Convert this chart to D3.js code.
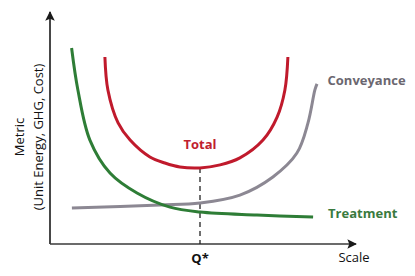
<!DOCTYPE html>
<html>
<head>
<meta charset="utf-8">
<script src="https://cdn.jsdelivr.net/npm/d3@7"></script>
<style>
  body { margin: 0; background: #fff; }
  text { font-family: "Open Sans", sans-serif; }
</style>
</head>
<body>
<div id="chart-container"></div>
<script>
// values (x = scale, y = metric, both 0-10)
var treatmentX = [0.72, 0.93, 1.33, 2.0, 2.9, 4.0, 5.0, 6.9, 8.77];
var treatmentY = [8.45, 6.64, 4.48, 3.06, 2.20, 1.59, 1.38, 1.25, 1.16];

var totalX = [1.83, 1.93, 2.27, 2.67, 3.33, 3.83, 4.33, 5.0, 5.67, 6.33, 7.1, 7.57, 7.83, 7.93];
var totalY = [8.06, 6.64, 5.22, 4.48, 3.75, 3.49, 3.32, 3.28, 3.41, 3.71, 4.48, 5.47, 6.64, 8.06];

var conveyanceX = [0.73, 3.67, 5.0, 6.33, 7.43, 8.23, 8.6, 8.83, 8.9];
var conveyanceY = [1.55, 1.68, 1.77, 2.11, 2.89, 3.92, 5.22, 6.64, 6.9];

var optimumX = 5.0;
var optimumY = 3.28;

var width = 415, height = 276;

var svg = d3.select('#chart-container')
  .append('svg')
  .attr('width', width)
  .attr('height', height);

var x = d3.scaleLinear().domain([0, 10]).range([50, 350]);
var y = d3.scaleLinear().domain([0, 10]).range([244, 12]);

// arrow heads
var defs = svg.append('defs');
defs.append('marker')
  .attr('id', 'arrow')
  .attr('viewBox', '0 0 10 10')
  .attr('refX', 9).attr('refY', 5)
  .attr('markerWidth', 6).attr('markerHeight', 6)
  .attr('markerUnits', 'strokeWidth')
  .attr('orient', 'auto')
  .append('path')
  .attr('d', 'M0,0 L10,5 L0,10 L2,5 Z')
  .attr('fill', '#1a1a1a');

// axes
svg.append('line')
  .attr('x1', x(0)).attr('y1', y(0))
  .attr('x2', x(0)).attr('y2', y(10))
  .attr('stroke', '#1a1a1a').attr('stroke-width', 1.6)
  .attr('marker-end', 'url(#arrow)');

svg.append('line')
  .attr('x1', x(0)).attr('y1', y(0))
  .attr('x2', x(10.2)).attr('y2', y(0))
  .attr('stroke', '#3a3a3a').attr('stroke-width', 1.6)
  .attr('marker-end', 'url(#arrow)');

// dashed line at Q*
svg.append('line')
  .attr('x1', x(optimumX)).attr('y1', y(optimumY))
  .attr('x2', x(optimumX)).attr('y2', y(0))
  .attr('stroke', '#222').attr('stroke-width', 1.3)
  .attr('stroke-dasharray', '5,4');

var line = d3.line()
  .x(d => x(d[0]))
  .y(d => y(d[1]))
  .curve(d3.curveCatmullRom.alpha(0.5));

function drawSeries(xs, ys, color) {
  svg.append('path')
    .datum(d3.zip(xs, ys))
    .attr('d', line)
    .attr('fill', 'none')
    .attr('stroke', color)
    .attr('stroke-width', 3);
}

drawSeries(conveyanceX, conveyanceY, '#8c8893');
drawSeries(treatmentX, treatmentY, '#2e7d36');
drawSeries(totalX, totalY, '#c01a2c');

// series labels
svg.append('text')
  .attr('x', x(5)).attr('y', y(4.1))
  .attr('text-anchor', 'middle')
  .attr('font-size', 13).attr('font-weight', 'bold')
  .attr('fill', '#c0202e')
  .text('Total');

svg.append('text')
  .attr('x', x(9.25)).attr('y', y(6.85))
  .attr('font-size', 13).attr('font-weight', 'bold')
  .attr('fill', '#6b6770')
  .text('Conveyance');

svg.append('text')
  .attr('x', x(9.27)).attr('y', y(1.1))
  .attr('font-size', 13).attr('font-weight', 'bold')
  .attr('fill', '#3a7a3e')
  .text('Treatment');

// axis labels
svg.append('text')
  .attr('x', x(optimumX)).attr('y', 263)
  .attr('text-anchor', 'middle')
  .attr('font-size', 13).attr('font-weight', 'bold')
  .attr('fill', '#111')
  .text('Q*');

svg.append('text')
  .attr('x', 354).attr('y', 262)
  .attr('text-anchor', 'middle')
  .attr('font-size', 13)
  .attr('fill', '#111')
  .text('Scale');

var yLabel = svg.append('text')
  .attr('transform', 'translate(24,137) rotate(-90)')
  .attr('text-anchor', 'middle')
  .attr('font-size', 13)
  .attr('fill', '#111');
yLabel.append('tspan').attr('x', 0).attr('dy', 0).text('Metric');
yLabel.append('tspan').attr('x', 0).attr('dy', 19).text('(Unit Energy, GHG, Cost)');
</script>
</body>
</html>
